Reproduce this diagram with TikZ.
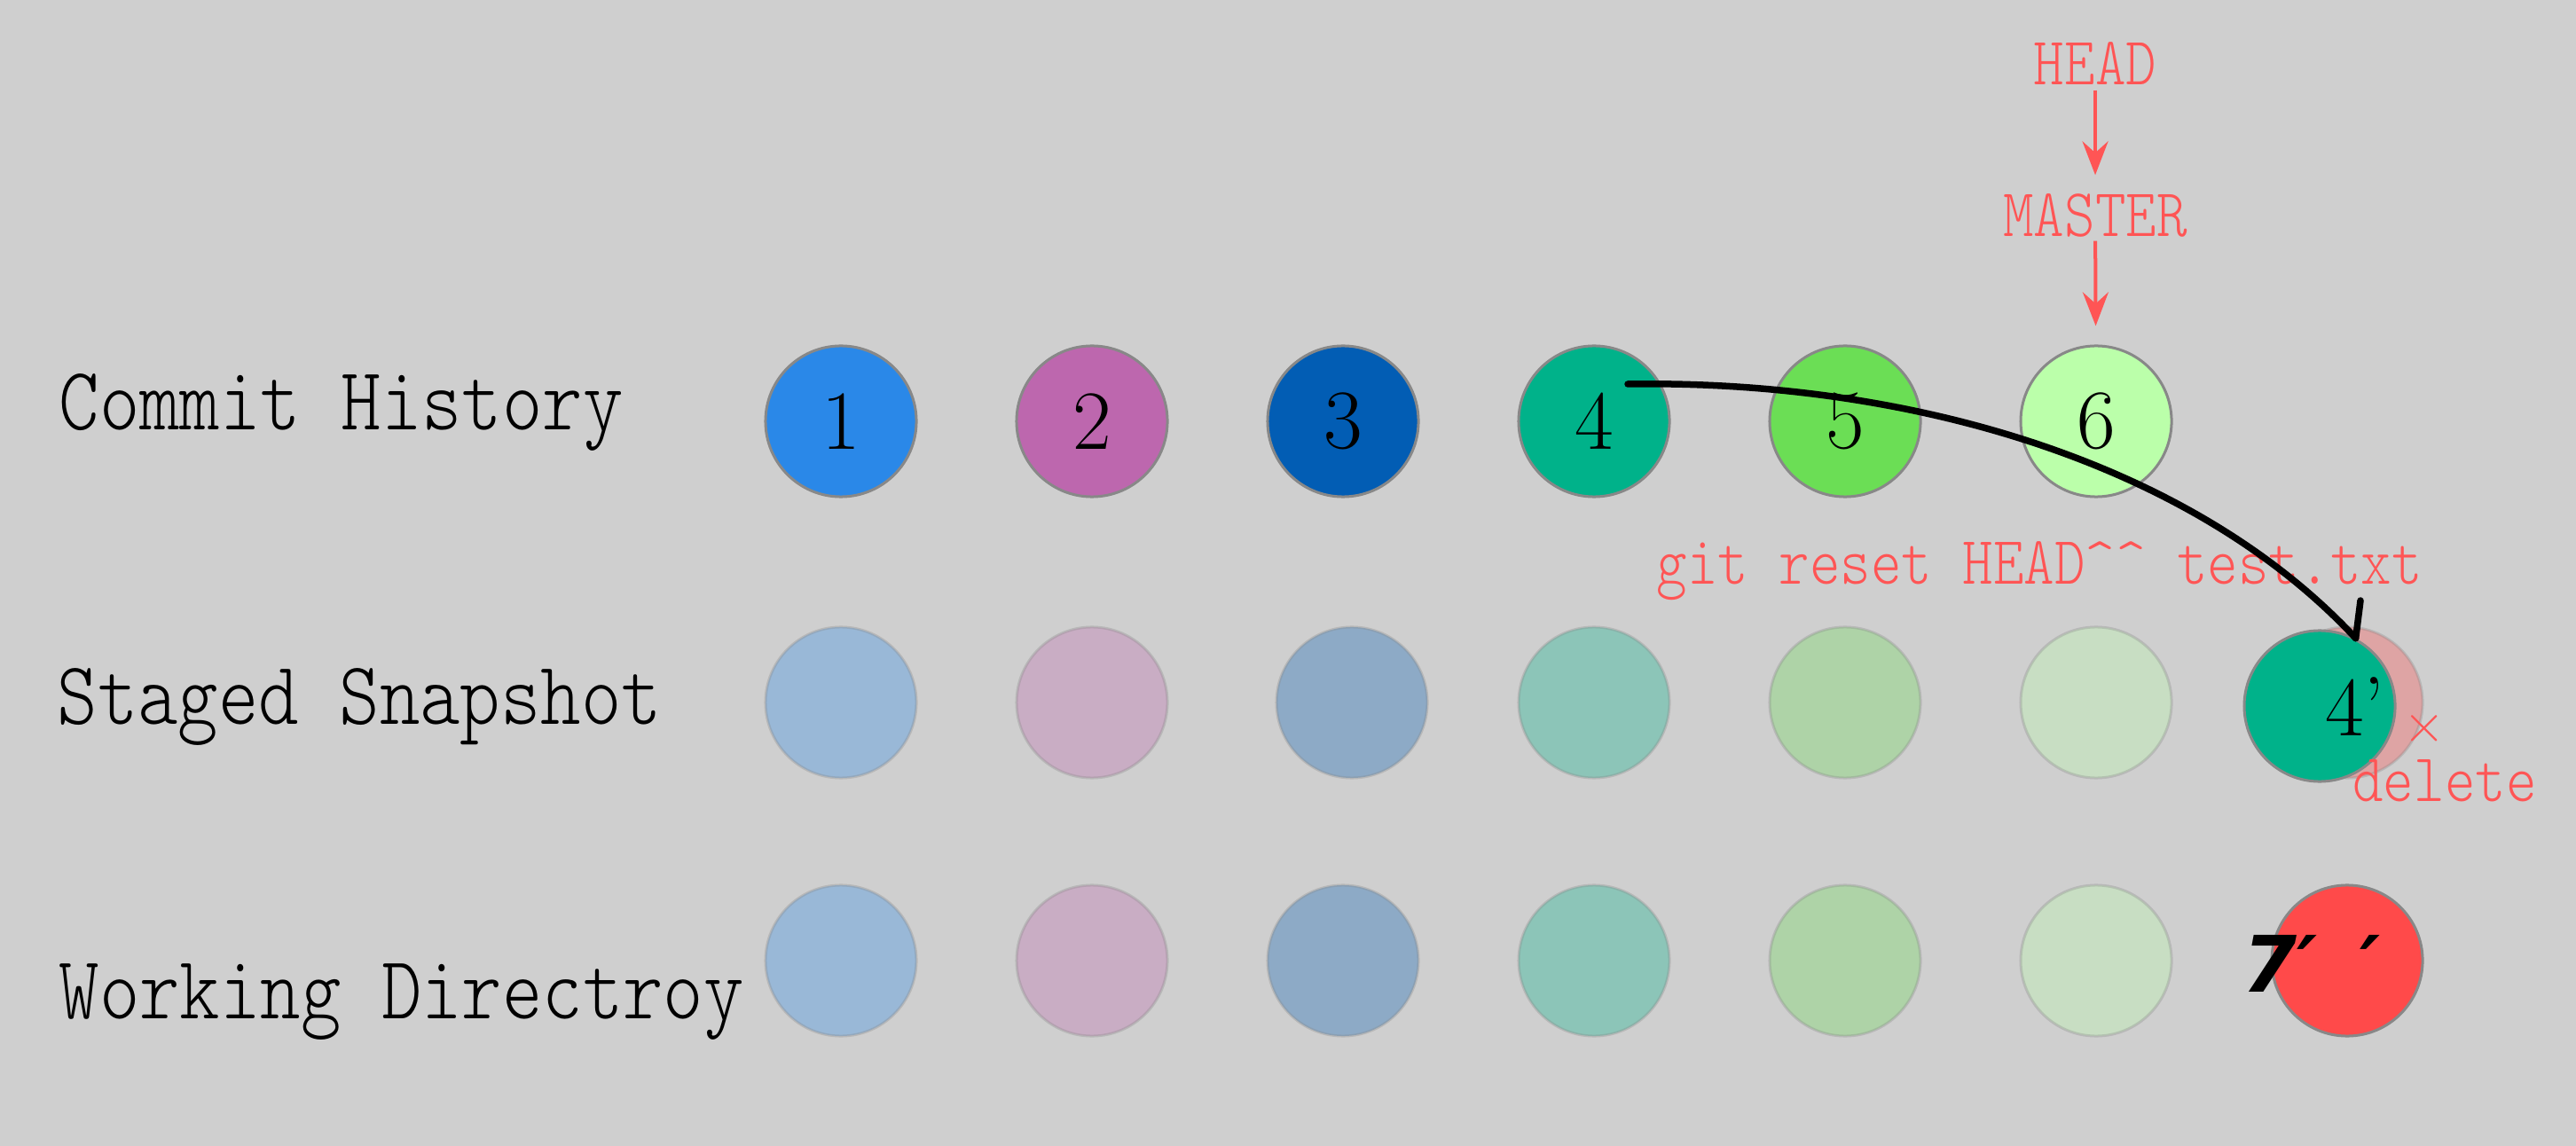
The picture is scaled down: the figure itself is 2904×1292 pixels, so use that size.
\documentclass[tikz,border=0pt]{standalone}
\usepackage{fontspec}
\usepackage{graphicx}
\usetikzlibrary{shapes, arrows.meta}

\setmonofont{Latin Modern Mono Light}
\newfontfamily\primefont{DejaVu Sans}
\newcommand{\tall}[1]{\scalebox{1}[1.17]{#1}}

\definecolor{bg}{HTML}{CFCFCF}
\definecolor{rim}{HTML}{888888}
\definecolor{notered}{HTML}{FF5555}
\definecolor{blue1}{HTML}{2A88E8}
\definecolor{pink2}{HTML}{BD67AE}
\definecolor{blue3}{HTML}{025DB4}
\definecolor{green4}{HTML}{00B28A}
\definecolor{green5}{HTML}{6BDE55}
\definecolor{green6}{HTML}{BBFFAA}
\definecolor{red7}{HTML}{FF4A4A}

\tikzset{
    lane/.style={anchor=base west, inner sep=0pt, font=\fontsize{24.6}{30}\selectfont\ttfamily},
    note/.style={inner sep=0pt, text=notered, font=\fontsize{18.7}{22}\selectfont\ttfamily},
    commit/.style={circle, draw=rim, line width=0.3mm, minimum size=1.7cm, inner sep=0pt, font=\fontsize{27}{32}\selectfont},
    faded/.style={commit, opacity=0.32},
    ptr/.style={-{Stealth[length=3.8mm, width=2.9mm, inset=1.3mm]}, draw=notered, line width=0.4mm, shorten <=0.5mm, shorten >=2.1mm},
    jump/.style={line width=0.75mm, line cap=round},
}

\begin{document}
\begin{tikzpicture}[x=0.01cm, y=-0.01cm]
    \fill[bg] (0,0) rectangle (2904,1292);

    \node[lane] (lcommit) at (66,485) {\tall{Commit History}};
    \node[lane] (lstaged) at (64,816) {\tall{Staged Snapshot}};
    \node[lane] (lwork) at (66,1148) {\tall{Working Directroy}};

    % commit history
    \node[commit, fill=blue1] (c1) at (948,475) {1};
    \node[commit, fill=pink2] (c2) at (1231,475) {2};
    \node[commit, fill=blue3] (c3) at (1514,475) {3};
    \node[commit, fill=green4] (c4) at (1797,475) {4};
    \node[commit, fill=green5] (c5) at (2080,475) {5};
    \node[commit, fill=green6] (c6) at (2363,475) {6};

    % staged snapshot
    \node[faded, fill=blue1] (s1) at (948,792) {};
    \node[faded, fill=pink2] (s2) at (1231,792) {};
    \node[faded, fill=blue3] (s3) at (1524,792) {};
    \node[faded, fill=green4] (s4) at (1797,792) {};
    \node[faded, fill=green5] (s5) at (2080,792) {};
    \node[faded, fill=green6] (s6) at (2363,792) {};
    \node[faded, fill=red7] (s7) at (2646,792) {};
    \node[commit, fill=green4] (c4p) at (2615,796) {};
    \node[inner sep=0pt, font=\fontsize{27}{32}\selectfont] (t4p) at (2655,797) {4’};

    % working directory
    \node[faded, fill=blue1] (w1) at (948,1083) {};
    \node[faded, fill=pink2] (w2) at (1231,1083) {};
    \node[faded, fill=blue3] (w3) at (1514,1083) {};
    \node[faded, fill=green4] (w4) at (1797,1083) {};
    \node[faded, fill=green5] (w5) at (2080,1083) {};
    \node[faded, fill=green6] (w6) at (2363,1083) {};
    \node[commit, fill=red7] (w7) at (2646,1083) {};
    \node[anchor=base west, inner sep=0pt, font=\fontsize{25}{30}\selectfont\primefont\bfseries\itshape] (t7) at (2528,1118) {7′\hspace{0.47cm}′};

    % pointers
    \node[note, anchor=base] (head) at (2362,96) {\tall{HEAD}};
    \node[note, anchor=base] (master) at (2362,267) {\tall{MASTER}};
    \draw[ptr] (head) -- (master);
    \draw[ptr, shorten <=0.3mm] (master) -- (c6);

    \node[note, anchor=base] (cmd) at (2299,659) {\tall{git reset HEAD\textasciicircum\textasciicircum{} test.txt}};
    \node[note, font=\fontsize{19}{22}\selectfont] (cross) at (2733,821) {$\times$};
    \node[note, anchor=base] (del) at (2756,903) {\tall{delete}};

    % reset 4 into the stage
    \coordinate (barb) at (2661,677);
    \draw[jump] ([shift={(38,-42)}]c4.center) .. controls (2150,428) and (2470,520) .. (c4p.62);
    \draw[jump] (c4p.62) -- (barb);
\end{tikzpicture}
\end{document}
